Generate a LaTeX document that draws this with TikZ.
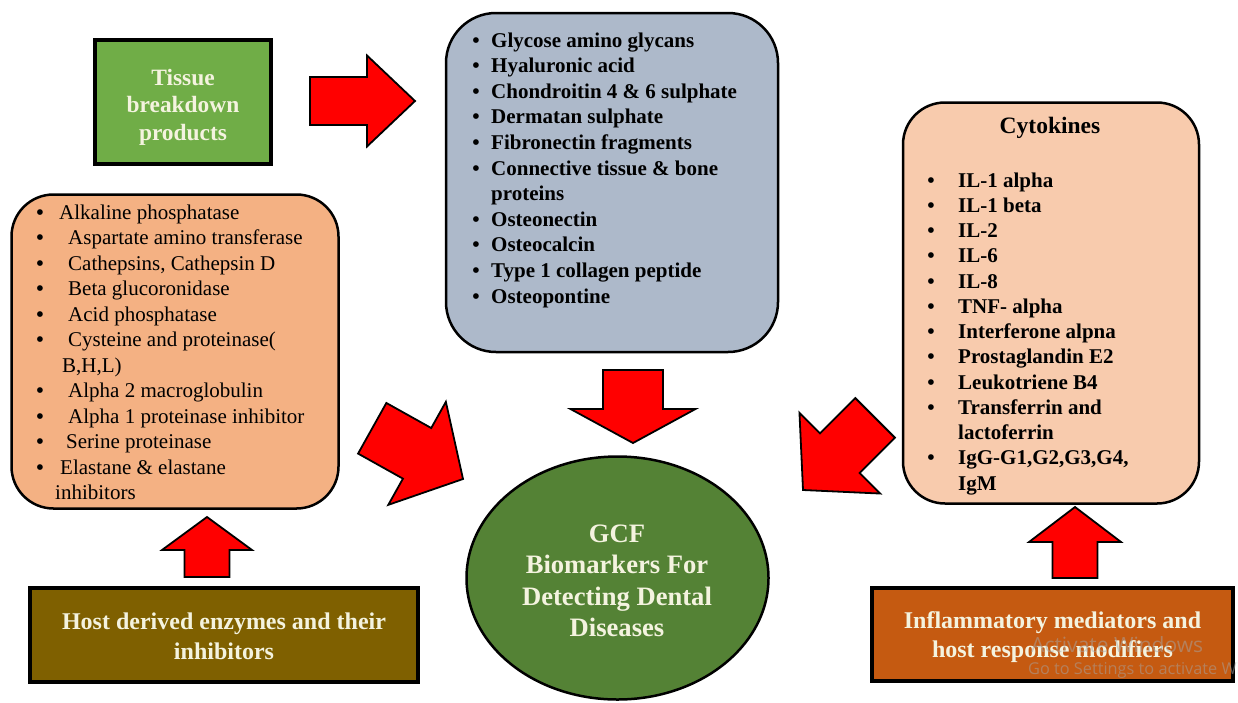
\documentclass[tikz,border=0pt]{standalone}
\usepackage{fontspec}
\usetikzlibrary{shapes.geometric}
\setmainfont{Liberation Serif}
\newfontfamily\wmfont{Open Sans}
\definecolor{tissuegreen}{HTML}{70AD47}
\definecolor{enzfill}{HTML}{F4B183}
\definecolor{tbpfill}{HTML}{ADB9CA}
\definecolor{cytofill}{HTML}{F8CBAD}
\definecolor{hostfill}{HTML}{7F6000}
\definecolor{inflfill}{HTML}{C55A11}
\definecolor{gcfgreen}{HTML}{548235}
\definecolor{cream}{HTML}{F4F3DF}
\definecolor{arrred}{HTML}{FF0000}
\newcommand\blockarrow[8]{%
  \coordinate (#1) at (#2,#3);
  \draw[blockarr, shift={(#1)}, rotate=#4]
    (0,0) -- (-#6,#7) -- (-#6,#8) -- (-#5,#8) -- (-#5,-#8) -- (-#6,-#8) -- (-#6,-#7) -- cycle;}
\begin{document}
\begin{tikzpicture}[x=1pt,y=-1pt,
  rbox/.style={draw=black, line width=2.5pt, rounded corners=42pt, inner sep=0pt},
  sbox/.style={draw=black, line width=4.5pt, inner sep=0pt},
  blockarr/.style={fill=arrred, draw=black, line width=1.8pt, line join=miter},
  listreg/.style={anchor=base west, inner sep=0pt, font=\fontsize{21}{25}\selectfont},
  listbold/.style={anchor=base west, inner sep=0pt, font=\fontsize{21}{25}\selectfont\bfseries},
  bul/.style={anchor=base, inner sep=0pt, font=\fontsize{21}{25}\selectfont\bfseries},
  headtext/.style={text=cream, align=center, inner sep=0pt, font=\bfseries},
  wm/.style={anchor=base west, inner sep=0pt, text=gray!70, opacity=0.5}
]
\useasboundingbox (0,0) rectangle (1238,702);
\fill[white] (0,0) rectangle (1238,702);

% ---------- boxes ----------
\node[sbox, fill=tissuegreen, minimum width=176pt, minimum height=124pt] (tissue) at (183,102) {};
\node[headtext, font=\fontsize{23.4}{27.5}\selectfont\bfseries] (tissueT) at (183,107) {Tissue\\breakdown\\products};

\node[rbox, fill=tbpfill, minimum width=332pt, minimum height=339pt, rounded corners=50pt] (tbp) at (612,182.5) {};
\node[rbox, fill=enzfill, minimum width=327pt, minimum height=314pt] (enz) at (175,351.5) {};
\node[rbox, fill=cytofill, minimum width=296pt, minimum height=401pt] (cyto) at (1051,303) {};

\node[sbox, line width=4pt, fill=hostfill, minimum width=388pt, minimum height=94pt] (host) at (224,635) {};
\node[headtext, font=\fontsize{24}{30}\selectfont\bfseries] (hostT) at (224,636) {Host derived enzymes and their\\inhibitors};

\node[sbox, line width=4pt, fill=inflfill, minimum width=361pt, minimum height=93pt] (infl) at (1052.5,634.5) {};
\node[headtext, font=\fontsize{24}{29}\selectfont\bfseries] (inflT) at (1052.5,637) {Inflammatory mediators and\\host response modifiers};

\node[draw=black, line width=2.5pt, fill=gcfgreen, ellipse, minimum width=302pt, minimum height=243pt, inner sep=0pt] (gcf) at (617.5,578) {};
\node[headtext, font=\fontsize{26.6}{31.5}\selectfont\bfseries] (gcfT) at (617,581) {GCF\\Biomarkers For\\Detecting Dental\\Diseases};

% ---------- list: tissue breakdown products ----------
\foreach \t [count=\i from 0] in {Glycose amino glycans, Hyaluronic acid, Chondroitin 4 \& 6 sulphate, Dermatan sulphate, Fibronectin fragments, Connective tissue \& bone, proteins, Osteonectin, Osteocalcin, Type 1 collagen peptide, Osteopontine}
  \node[listbold] (tbp\i) at (491, 47+25.6*\i) {\t};
\foreach \i in {0,1,2,3,4,5,7,8,9,10}
  \node[bul] (tbpb\i) at (476, 47+25.6*\i) {\textbullet};

% ---------- list: host derived enzymes ----------
\foreach \xo/\t [count=\i from 0] in {59/{Alkaline phosphatase}, 68/{Aspartate amino transferase}, 68/{Cathepsins, Cathepsin D}, 68/{Beta glucoronidase}, 68/{Acid phosphatase}, 68/{Cysteine and proteinase(}, 62/{B,H,L)}, 68/{Alpha 2 macroglobulin}, 68/{Alpha 1 proteinase inhibitor}, 66/{Serine proteinase}, 60/{Elastane \& elastane}, 55/{inhibitors}}
  \node[listreg] (enz\i) at (\xo, 219+25.5*\i) {\t};
\foreach \i in {0,1,2,3,4,5,7,8,9,10}
  \node[bul] (enzb\i) at (40, 219+25.5*\i) {\textbullet};

% ---------- list: cytokines ----------
\node[anchor=base, inner sep=0pt, font=\fontsize{23.5}{28}\selectfont\bfseries] (cytoT) at (1050,133) {Cytokines};
\foreach \t [count=\i from 0] in {IL-1 alpha, IL-1 beta, IL-2, IL-6, IL-8, TNF- alpha, Interferone alpna, Prostaglandin E2, Leukotriene B4, Transferrin and, lactoferrin, {IgG-G1,G2,G3,G4,}, IgM}
  \node[listbold] (cyto\i) at (958, 187+25.25*\i) {\t};
\foreach \i in {0,1,2,3,4,5,6,7,8,9,11}
  \node[bul] (cytob\i) at (931, 187+25.25*\i) {\textbullet};

% ---------- block arrows ----------
% name, tip x, tip y, angle, total length, head length, head half-width, tail half-width
\blockarrow{aTissue}{415}{101}{0}{105}{48}{45.5}{24}
\blockarrow{aTbp}{633}{443}{-90}{73}{34}{62.5}{30}
\blockarrow{aEnz}{463}{479}{-29.2}{104}{52.6}{59}{29}
\blockarrow{aCyto}{803}{490}{-135}{102}{52}{57}{28}
\blockarrow{aHost}{207}{517}{90}{60}{33}{45}{22.5}
\blockarrow{aInfl}{1075}{507}{90}{71}{35}{46}{22.5}

% ---------- watermark ----------
\begin{scope}
\clip (0,0) rectangle (1238,702);
\node[wm, font=\wmfont\fontsize{21}{24}\selectfont] (wm1) at (1031,652) {Activate Windows};
\node[wm, font=\wmfont\fontsize{16.3}{19}\selectfont] (wm2) at (1028,674) {Go to Settings to activate Windows.};
\end{scope}
\end{tikzpicture}
\end{document}
